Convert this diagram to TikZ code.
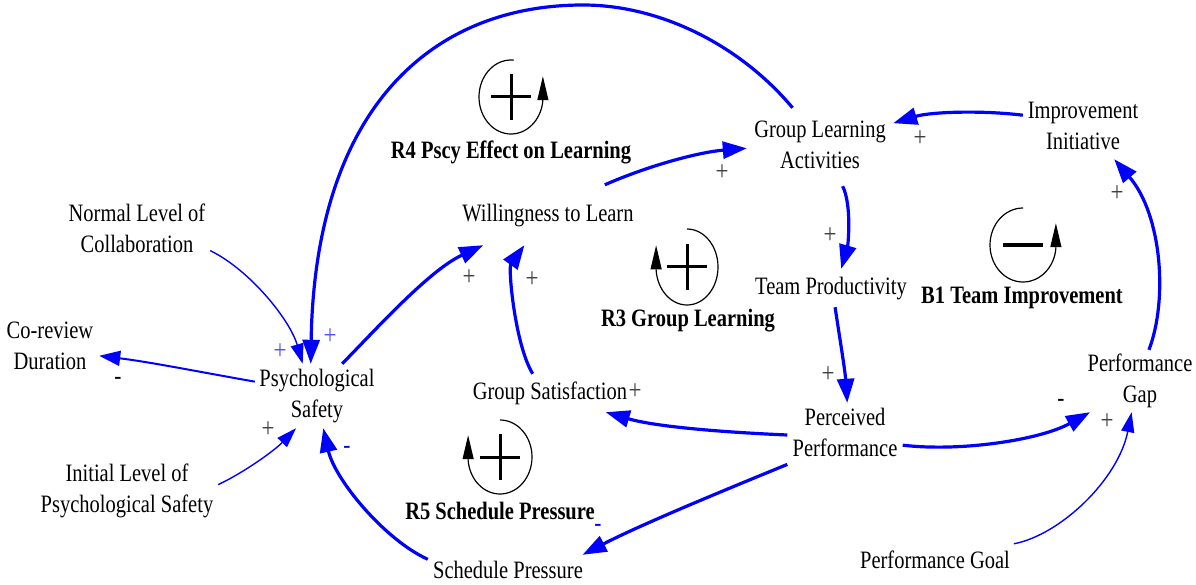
\documentclass[tikz,border=0pt]{standalone}
\usepackage{fontspec}
\setmainfont{Liberation Serif}[FakeStretch=0.82]
\usetikzlibrary{arrows.meta}
\tikzset{
  var/.style={inner sep=0pt, align=center, font=\fontsize{25}{31}\selectfont},
  lp/.style={inner sep=0pt, font=\fontsize{25}{31}\selectfont\bfseries},
  link/.style={draw=blue, line width=3.2pt, -{Triangle[length=24pt,width=17pt]}},
  thinlink/.style={draw=blue, line width=1.4pt, -{Triangle[length=20pt,width=13pt]}},
  midlink/.style={draw=blue, line width=2pt, -{Triangle[length=21pt,width=15pt]}},
  pol/.style={inner sep=0pt, font=\fontsize{28}{31}\selectfont, text=black!75},
  bpol/.style={inner sep=0pt, font=\fontsize{28}{31}\selectfont, text={rgb,255:red,80;green,80;blue,255}},
  npol/.style={inner sep=0pt, font=\fontsize{26}{31}\selectfont},
  loopc/.style={black, line width=1.2pt, -{Triangle[length=24pt,width=11pt]}},
  sign/.style={black, line width=3pt},
}
\begin{document}
\begin{tikzpicture}[x=1pt,y=-1pt]
\useasboundingbox (0,0) rectangle (1196,585);
% variables
\node[var, minimum width=146pt, minimum height=78pt] (gla) at (820,147) {Group Learning\strut\\Activities\strut};
\node[var, minimum width=120pt, minimum height=62pt] (ii) at (1083,128) {Improvement\strut\\Initiative\strut};
\node[var, minimum width=146pt, minimum height=64pt] (nlc) at (137,231) {Normal Level of\strut\\Collaboration\strut};
\node[var, minimum width=180pt, minimum height=60pt] (wtl) at (548,215) {Willingness to Learn\strut};
\node[var, minimum width=98pt, minimum height=64pt] (crd) at (50,348) {Co-review\strut\\Duration\strut};
\node[var, minimum width=124pt, minimum height=64pt] (ps) at (317,396) {Psychological\strut\\Safety\strut};
\node[var, minimum width=160pt, minimum height=38pt] (tp) at (831,288) {Team Productivity\strut};
\node[var, minimum width=164pt, minimum height=38pt] (gs) at (550,393) {Group Satisfaction\strut};
\node[var, minimum width=115pt, minimum height=64pt] (pp) at (845,435) {Perceived\strut\\Performance\strut};
\node[var, minimum width=108pt, minimum height=62pt] (pg) at (1140,381) {Performance\strut\\Gap\strut};
\node[var, minimum width=182pt, minimum height=64pt] (ilps) at (127,491) {Initial Level of\strut\\Psychological Safety\strut};
\node[var, minimum width=160pt, minimum height=34pt] (sp) at (508,572) {Schedule Pressure\strut};
\node[var, minimum width=160pt, minimum height=36pt] (pgoal) at (935,562) {Performance Goal\strut};
% loop labels
\node[lp] (r4l) at (511,152) {R4 Pscy Effect on Learning};
\node[lp] (r3l) at (688,321) {R3 Group Learning};
\node[lp] (b1l) at (1022,298) {B1 Team Improvement};
\node[lp] (r5l) at (500,511) {R5 Schedule Pressure};
% loop symbols
\begin{scope}[shift={(511,97)}, yscale=-1]
  \draw[loopc] (85:32 and 37) arc[start angle=85, end angle=355, x radius=32, y radius=37] -- ++(0,24);
  \draw[sign] (-20,0) -- (20,0) (0,-23) -- (0,23);
\end{scope}
\begin{scope}[shift={(687,267)}, yscale=-1]
  \draw[loopc] (90:31 and 38) arc[start angle=90, end angle=-175, x radius=31, y radius=38] -- ++(0,25);
  \draw[sign] (-20,0) -- (20,0) (0,-23) -- (0,23);
\end{scope}
\begin{scope}[shift={(1023,245)}, yscale=-1]
  \draw[loopc] (90:33 and 37) arc[start angle=90, end angle=355, x radius=33, y radius=37] -- ++(0,25);
  \draw[black, line width=3.5pt] (-20,0) -- (20,0);
\end{scope}
\begin{scope}[shift={(500,457)}, yscale=-1]
  \draw[loopc] (90:32 and 37) arc[start angle=90, end angle=-175, x radius=32, y radius=37] -- ++(0,25);
  \draw[sign] (-20,0) -- (20,0) (0,-23) -- (0,23);
\end{scope}
% connectors
\coordinate (arctop) at (583,5);
\draw[link] (gla.125) .. controls (740,45) and (660,5) .. (arctop) .. controls (430,5) and (315,110) .. (ps.101);
\draw[link] (wtl.28) .. controls (650,165) and (700,152) .. (gla.181);
\draw[link] (ii.168) .. controls (980,110) and (930,112) .. (gla.18);
\draw[link] (gla.300) .. controls (852,205) and (848,245) .. (tp.62);
\draw[link] (tp.282) .. controls (840,340) and (845,370) .. (pp.86);
\draw[link] (pp.350) .. controls (960,452) and (1040,440) .. (pg.212);
\draw[thinlink] (pgoal.13) .. controls (1060,535) and (1118,480) .. (pg.255);
\draw[link] (pg.74) .. controls (1168,300) and (1162,215) .. (ii.315);
\draw[link] (pp.180) .. controls (740,433) and (660,428) .. (gs.341);
\draw[link] (pp.207) .. controls (720,492) and (640,525) .. (sp.13);
\draw[link] (sp.171) .. controls (385,540) and (335,480) .. (ps.281);
\draw[link] (gs.132) .. controls (515,345) and (508,268) .. (wtl.232);
\draw[link] (ps.52) .. controls (380,325) and (430,270) .. (wtl.205);
\draw[thinlink] (nlc.345) .. controls (250,270) and (290,320) .. (ps.114);
\draw[midlink] (ps.167) .. controls (200,372) and (150,362) .. (crd.351);
\draw[thinlink] (ilps.4) .. controls (245,472) and (275,450) .. (ps.237);
% polarities
\node[bpol] (p1) at (330,337) {+};
\node[bpol] (p2) at (280,352) {+};
\node[npol] (p3) at (118,381) {-};
\node[pol] (p4) at (268,430) {+};
\node[npol, text=blue] (p5) at (347,450) {-};
\node[pol] (p6) at (469,278) {+};
\node[pol] (p7) at (532,280) {+};
\node[pol] (p8) at (722,173) {+};
\node[pol] (p9) at (920,139) {+};
\node[pol] (p10) at (830,236) {+};
\node[pol] (p11) at (828,375) {+};
\node[pol] (p12) at (635,392) {+};
\node[npol, text=blue] (p13) at (598,528) {-};
\node[npol] (p14) at (1061,403) {-};
\node[pol] (p15) at (1107,422) {+};
\node[pol] (p16) at (1117,194) {+};
\end{tikzpicture}
\end{document}
